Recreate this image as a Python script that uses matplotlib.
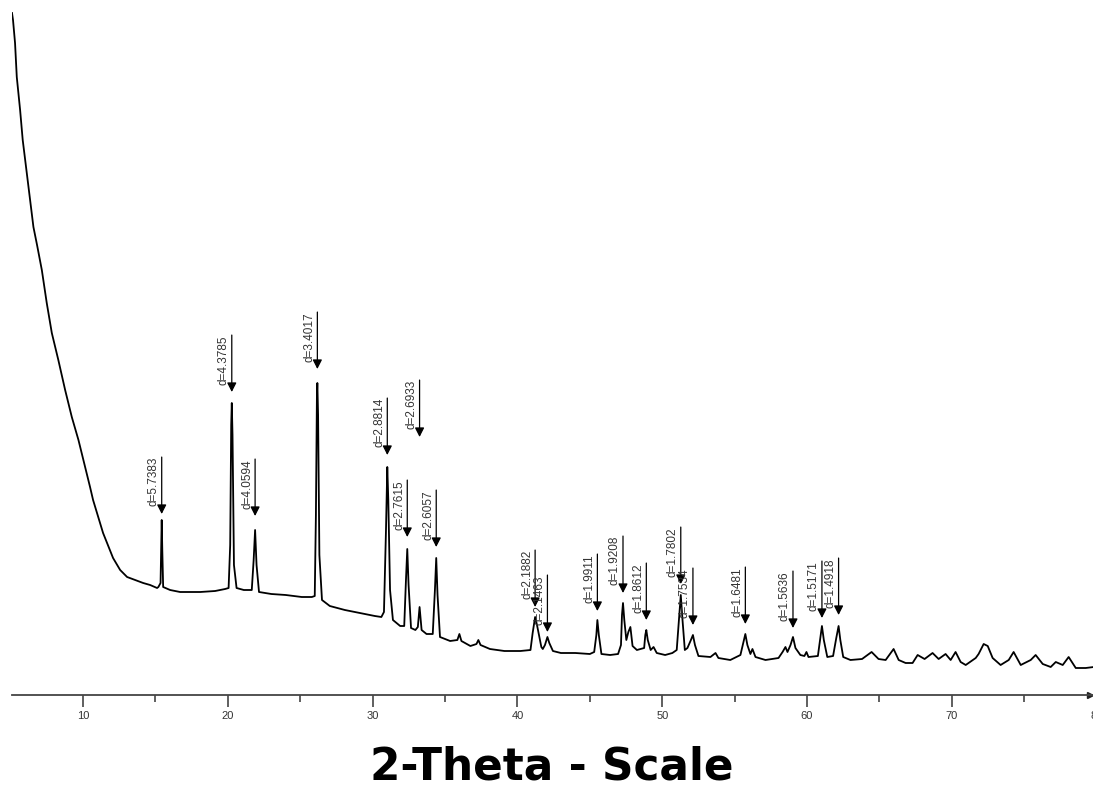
import matplotlib.pyplot as plt

# XRD trace (2-theta in degrees, intensity in counts)
two_theta = [
    5.09, 5.16, 5.30, 5.42, 5.65, 5.83, 6.11, 6.34, 6.57, 6.82, 7.15, 7.49, 7.84,
    8.29, 8.76, 9.22, 9.68, 10.14, 10.48, 10.69, 11.38, 12.07, 12.56, 13.04, 13.59,
    14.15, 14.63, 15.11,
    15.20, 15.35, 15.40, 15.43, 15.47, 15.53, 16.01, 16.70, 18.09, 19.12, 19.81,
    20.05, 20.16, 20.23, 20.27, 20.32, 20.42, 20.60, 21.10,
    21.65, 21.78, 21.88, 21.98, 22.15, 23.00, 24.00, 25.10, 25.80,
    26.00, 26.08, 26.15, 26.18, 26.23, 26.32, 26.50, 27.04, 28.08, 29.12, 30.15, 30.60,
    30.78, 30.92, 31.00, 31.01, 31.08, 31.20, 31.40, 31.90,
    32.18, 32.30, 32.39, 32.48, 32.65, 32.95,
    33.12, 33.24, 33.38, 33.72,
    34.15, 34.30, 34.39, 34.48, 34.65, 35.35,
    35.85, 35.99, 36.13, 36.75, 37.17, 37.30, 37.45, 38.10, 39.10, 40.20, 40.90,
    41.05, 41.22, 41.35, 41.65, 41.75, 41.90,
    42.07, 42.20, 42.45, 43.00, 44.00, 45.00,
    45.30, 45.45, 45.52, 45.62, 45.80, 46.40, 46.95,
    47.15, 47.22, 47.29, 47.38, 47.52, 47.66, 47.80, 47.95, 48.25,
    48.75, 48.83, 48.90, 49.00, 49.20, 49.40, 49.62, 50.20, 50.70,
    51.00, 51.15, 51.28, 51.40, 51.56, 51.74, 51.98, 52.12, 52.26, 52.50, 53.33,
    53.68, 53.88, 54.70,
    55.40, 55.61, 55.74, 55.88, 56.09, 56.23, 56.44, 57.13, 58.03, 58.31, 58.51, 58.65,
    58.86, 59.03, 59.20, 59.54, 59.82, 59.96, 60.10,
    60.75, 60.92, 61.03, 61.16, 61.40,
    61.80, 62.02, 62.18, 62.30, 62.50, 63.00, 63.80,
    64.46, 64.94, 65.43, 65.98, 66.33, 66.81, 67.29, 67.64, 68.12, 68.67, 69.09,
    69.57, 69.92, 70.26, 70.61, 70.96, 71.65, 71.85, 72.20, 72.48, 72.82, 73.37,
    73.93, 74.27, 74.76, 75.45, 75.79, 76.28, 76.83, 77.18, 77.66, 78.07, 78.56,
    79.25, 79.80,
]
counts = [
    682, 675, 652, 618, 585, 555, 522, 495, 468, 450, 425, 392, 362,
    335, 305, 278, 255, 228, 208, 195, 162, 137, 125, 118, 115,
    112, 110, 107,
    108, 112, 150, 175, 145, 108, 105, 103, 103, 104, 106,
    107, 150, 270, 292, 260, 130, 107, 105,
    105, 135, 165, 130, 103, 101, 100, 98, 98,
    99, 180, 300, 312, 280, 140, 95, 89, 85, 82, 79, 78,
    83, 165, 225, 228, 195, 105, 75, 69,
    69, 115, 146, 110, 67, 65,
    68, 88, 65, 61,
    61, 105, 137, 100, 58, 54,
    55, 61, 54, 49, 51, 55, 50, 46, 44, 44, 45,
    62, 78, 70, 48, 46, 50,
    58, 52, 44, 42, 42, 41,
    43, 60, 75, 60, 41, 40, 41,
    50, 80, 92, 75, 55, 63, 68, 49, 45,
    47, 60, 65, 55, 45, 48, 42, 40, 42,
    45, 75, 100, 75, 45, 47, 55, 60, 50, 39, 38,
    42, 37, 35,
    40, 53, 61, 50, 41, 46, 38, 35, 37, 43, 48, 43,
    50, 58, 47, 40, 39, 43, 38,
    39, 57, 69, 55, 38,
    39, 57, 69, 55, 38, 35, 36,
    43, 36, 35, 46, 35, 32, 32, 40, 36, 42, 36,
    41, 35, 43, 33, 30, 37, 41, 51, 49, 37, 30,
    35, 43, 30, 35, 40, 31, 28, 33, 30, 38, 27,
    27, 28,
]

# labelled reflections: d-spacing text, peak position, arrow tip height
peak_labels = ['5.7383', '4.3785', '4.0594', '3.4017', '2.8814', '2.7615',
               '2.6933', '2.6057', '2.1882', '2.1463', '1.9911', '1.9208',
               '1.8612', '1.7802', '1.7534', '1.6481', '1.5636', '1.5171',
               '1.4918']
peak_pos = [15.43, 20.27, 21.88, 26.18, 31.01, 32.39, 33.24, 34.39, 41.22,
            42.07, 45.52, 47.29, 48.90, 51.28, 52.12, 55.74, 59.03, 61.03,
            62.18]
arrow_tip = [181, 303, 179, 326, 240, 158, 258, 148, 88, 63, 84, 102, 75,
             111, 70, 71, 67, 77, 80]

W, H = 1093, 792
fig = plt.figure(figsize=(W / 100, H / 100), dpi=100)
# axes runs from 5.09 deg (left edge) to 80 deg, a little past the right border
ax = fig.add_axes([12 / W, 97 / H, 1084.6 / W, 695 / H])

ax.plot(two_theta, counts, color='black', lw=1.3)

arrow_len = 41  # points
for lab, x, tip in zip(peak_labels, peak_pos, arrow_tip):
    ax.annotate('', xy=(x, tip), xytext=(0, arrow_len), textcoords='offset points',
                arrowprops=dict(arrowstyle='-|>,head_length=0.55,head_width=0.28',
                                color='black', lw=0.9, mutation_scale=10,
                                shrinkA=0, shrinkB=0))
    ax.annotate('d=' + lab, xy=(x, tip), xytext=(-1.5, arrow_len),
                textcoords='offset points', rotation=90, ha='right', va='top',
                fontsize=8.5, family='Liberation Sans', color='#333333')

ax.set_xlim(5.09, 80.0)
ax.set_ylim(0, 695)
for s in ['left', 'right', 'top']:
    ax.spines[s].set_visible(False)
ax.spines['bottom'].set_color('#444444')
ax.spines['bottom'].set_linewidth(1.3)
ax.set_yticks([])
ax.set_xticks(range(10, 81, 10))
ax.set_xticks(range(15, 80, 10), minor=True)
ax.tick_params(axis='x', which='major', length=8.6, width=1.2, color='#444444',
               pad=3, labelsize=8, labelcolor='#333333')
ax.tick_params(axis='x', which='minor', length=5, width=1.2, color='#444444')
for t in ax.get_xticklabels():
    t.set_family('Liberation Sans')

# arrow head at the end of the axis
ax.plot([0.9935], [0], marker='>', ms=5, color='#222222',
        transform=ax.transAxes, clip_on=False)

fig.text(552 / W, 12 / H, '2-Theta - Scale', ha='center', va='baseline',
         fontsize=31.5, fontweight='bold', family='DejaVu Sans')

fig.savefig('out.png', dpi=100)
